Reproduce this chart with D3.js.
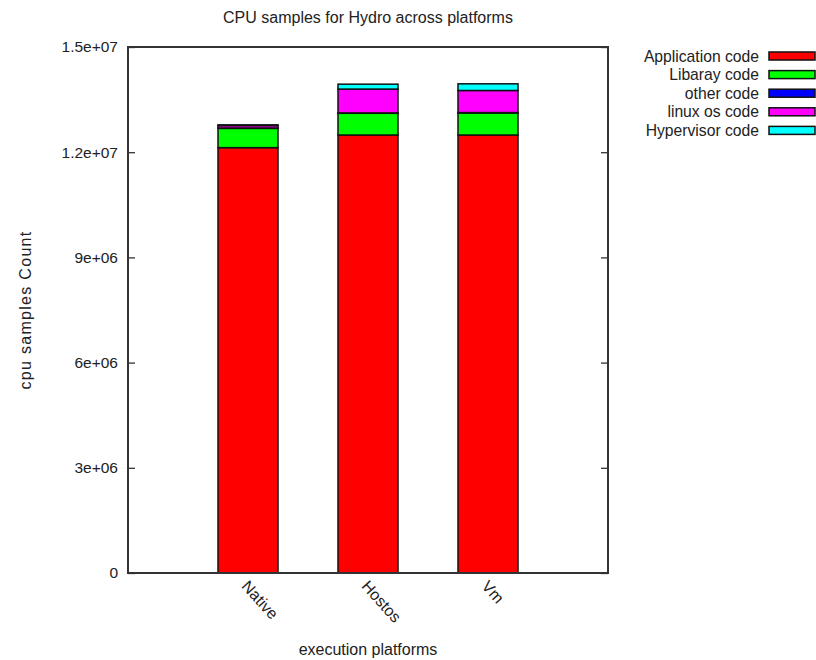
<!DOCTYPE html>
<html>
<head>
<meta charset="utf-8">
<script src="https://cdn.jsdelivr.net/npm/d3@7"></script>
<style>
  body { margin: 0; background: #fff; }
  text { font-family: "Liberation Sans", Arial, sans-serif; fill: #222; }
</style>
</head>
<body>
<div id="chart"></div>
<script>
// categories and series
let platforms = ["Native", "Hostos", "Vm"];
let seriesNames = ["Application code", "Libaray code", "other code", "linux os code", "Hypervisor code"];
let seriesColors = ["#ff0000", "#00ff00", "#0000ff", "#ff00ff", "#00ffff"];
let appCode = [12130000, 12490000, 12490000];
let libCode = [550000, 620000, 630000];
let otherCode = [10000, 10000, 10000];
let linuxCode = [70000, 680000, 630000];
let hyperCode = [20000, 140000, 190000];
let yTicks = [0, 3e6, 6e6, 9e6, 1.2e7, 1.5e7];
let yTickLabels = ["0", "3e+06", "6e+06", "9e+06", "1.2e+07", "1.5e+07"];

let width = 816, height = 660;
let margin = {top: 47, left: 128, right: 208, bottom: 87};

let svg = d3.select("#chart")
    .append("svg")
    .attr("width", width)
    .attr("height", height);

// build stack table
let table = platforms.map(function(p, i) {
    return {platform: p, s0: appCode[i], s1: libCode[i], s2: otherCode[i], s3: linuxCode[i], s4: hyperCode[i]};
});
let keys = ["s0", "s1", "s2", "s3", "s4"];
let stacked = d3.stack().keys(keys)(table);

let x = d3.scaleLinear()
    .domain([0, 4])
    .range([margin.left, width - margin.right]);

let y = d3.scaleLinear()
    .domain([0, 1.5e7])
    .range([height - margin.bottom, margin.top]);

let barW = (x(1) - x(0)) * 0.5;

// bars
svg.append("g")
    .selectAll("g")
    .data(stacked)
    .enter()
    .append("g")
    .attr("fill", function(d, i) { return seriesColors[i]; })
    .selectAll("rect")
    .data(function(d) { return d; })
    .enter()
    .append("rect")
    .attr("x", function(d, i) { return x(i + 1) - barW / 2; })
    .attr("y", function(d) { return y(d[1]); })
    .attr("width", barW)
    .attr("height", function(d) { return Math.max(0, y(d[0]) - y(d[1])); })
    .attr("stroke", "#111")
    .style("stroke-width", "1.5px");

// left axis, ticks inside
let yAxisL = d3.axisLeft(y)
    .tickValues(yTicks)
    .tickFormat(function(d, i) { return yTickLabels[i]; })
    .tickSizeInner(-7)
    .tickSizeOuter(0)
    .tickPadding(10);

let gl = svg.append("g")
    .attr("transform", `translate(${margin.left},0)`)
    .call(yAxisL);
gl.select(".domain").remove();
gl.selectAll(".tick line").attr("stroke", "#333").style("stroke-width", "1.3px");
gl.selectAll(".tick text")
    .style("font-size", "15.5px")
    .style("font-family", "'Liberation Sans', Arial, sans-serif")
    .attr("fill", "#222");

// mirrored ticks on right
let yAxisR = d3.axisRight(y)
    .tickValues(yTicks)
    .tickFormat("")
    .tickSizeInner(-7)
    .tickSizeOuter(0);
let gr = svg.append("g")
    .attr("transform", `translate(${width - margin.right},0)`)
    .call(yAxisR);
gr.select(".domain").remove();
gr.selectAll(".tick line").attr("stroke", "#333").style("stroke-width", "1.3px");

// frame
svg.append("rect")
    .attr("x", margin.left)
    .attr("y", margin.top)
    .attr("width", width - margin.left - margin.right)
    .attr("height", height - margin.top - margin.bottom)
    .attr("fill", "none")
    .attr("stroke", "#333")
    .style("stroke-width", "2px");

// x labels, rotated
svg.append("g")
    .selectAll("text")
    .data(platforms)
    .enter()
    .append("text")
    .attr("transform", function(d, i) { return `translate(${x(i + 1) - 3},${height - margin.bottom + 10}) rotate(48)`; })
    .attr("dy", "0.35em")
    .style("text-anchor", "start")
    .style("font-size", "16px")
    .text(function(d) { return d; });

// title and axis titles
svg.append("text")
    .attr("x", 368)
    .attr("y", 23)
    .style("text-anchor", "middle")
    .style("font-size", "16px")
    .text("CPU samples for Hydro across platforms");

svg.append("text")
    .attr("x", 368)
    .attr("y", 655)
    .style("text-anchor", "middle")
    .style("font-size", "16px")
    .text("execution platforms");

svg.append("text")
    .attr("transform", "translate(31,310) rotate(-90)")
    .style("text-anchor", "middle")
    .style("font-size", "16px")
    .style("letter-spacing", "1.3px")
    .text("cpu samples Count");

// legend
const legend = svg.append("g")
    .attr("transform", "translate(759,56)");

legend.selectAll(null)
    .data(seriesNames)
    .enter()
    .append("text")
    .attr("x", 0)
    .attr("y", function(d, i) { return i * 18.6; })
    .attr("dy", "0.35em")
    .style("text-anchor", "end")
    .style("font-size", "15.7px")
    .text(function(d) { return d; });

legend.selectAll(null)
    .data(seriesNames)
    .enter()
    .append("rect")
    .attr("x", 10)
    .attr("y", function(d, i) { return i * 18.6 - 4; })
    .attr("width", 46)
    .attr("height", 8)
    .attr("fill", function(d, i) { return seriesColors[i]; })
    .attr("stroke", "#111")
    .style("stroke-width", "1.5px");
</script>
</body>
</html>
